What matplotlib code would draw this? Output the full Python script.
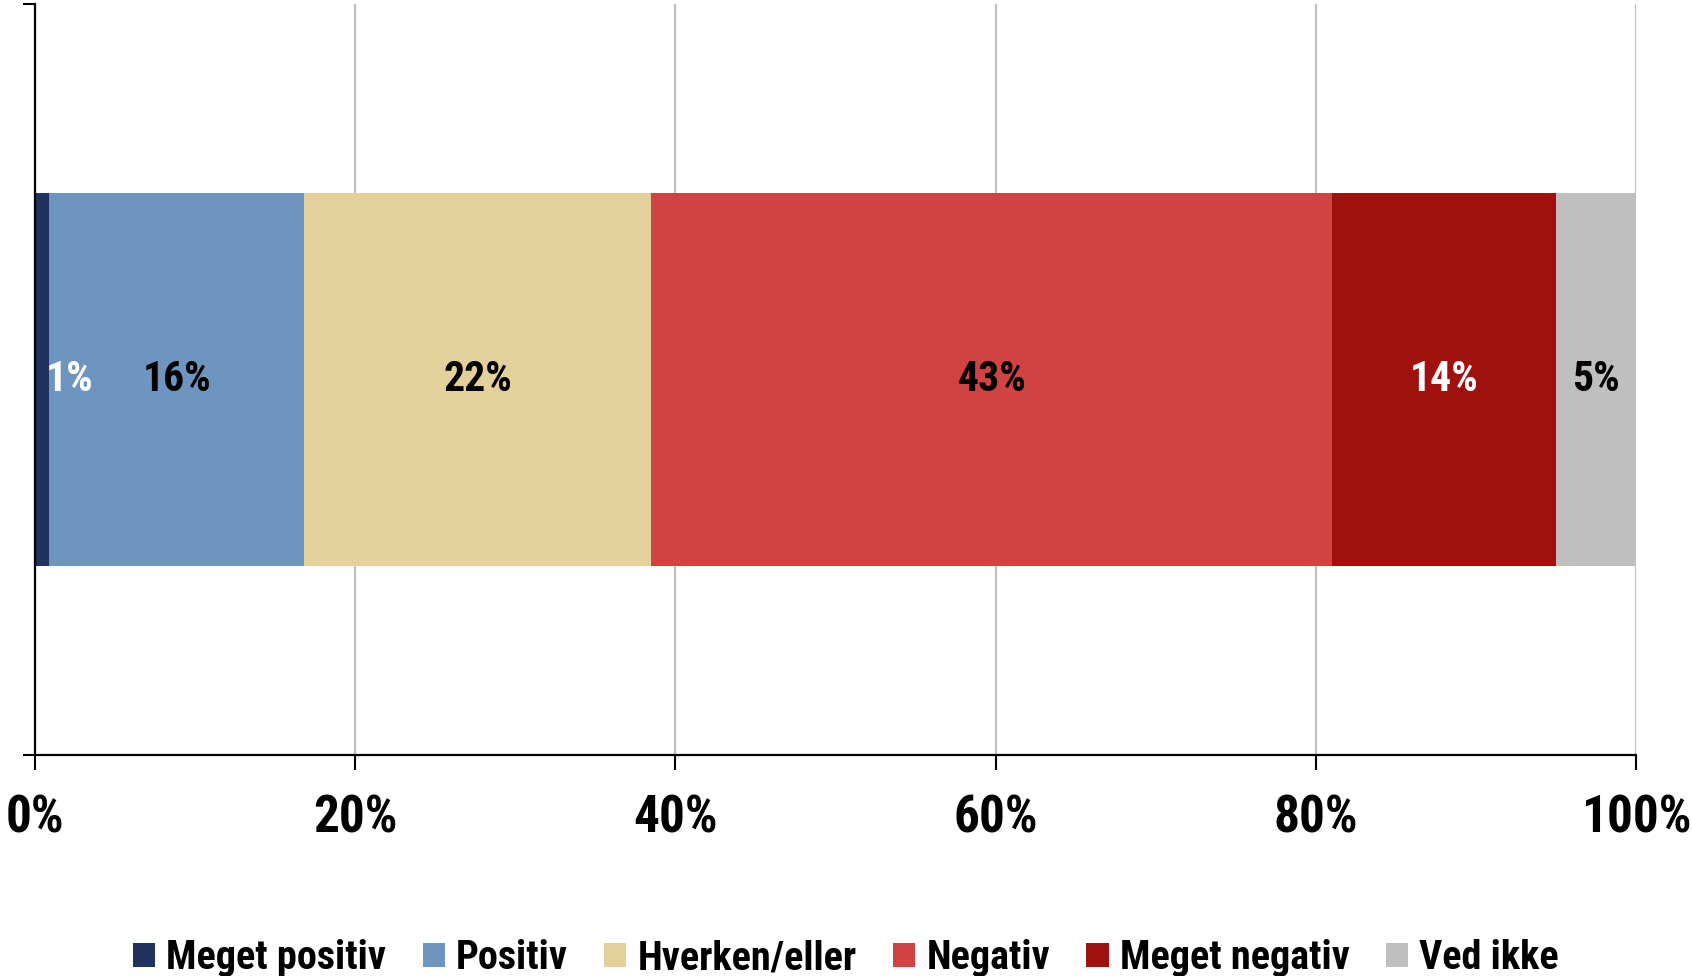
import matplotlib
matplotlib.use("Agg")
import matplotlib.pyplot as plt
from matplotlib.ticker import PercentFormatter

# Data (percent of respondents)
categories = ["Meget positiv", "Positiv", "Hverken/eller", "Negativ", "Meget negativ", "Ved ikke"]
values = [0.9, 15.9, 21.7, 42.5, 14.0, 5.0]
labels = ["1%", "16%", "22%", "43%", "14%", "5%"]

colors = ["#20335e", "#6e94c0", "#e4d09a", "#d14343", "#a0100c", "#bfbfbf"]
label_colors = ["white", "black", "black", "black", "white", "black"]
label_offsets = [20, 0, 0, 0, 0, 0]  # points, Excel nudged the tiny one

plt.rcParams["font.family"] = ["Liberation Sans Narrow", "Roboto Condensed", "Open Sans Condensed",
                               "Liberation Sans", "DejaVu Sans"]
plt.rcParams["font.weight"] = "bold"

fig = plt.figure(figsize=(16.92, 9.76), dpi=100)
ax = fig.add_axes([0.0207, 0.2264, 0.9463, 0.7695])

left = 0
for cat, val, col, lab, lcol, off in zip(categories, values, colors, labels, label_colors, label_offsets):
    ax.barh(0, val, left=left, height=0.497, color=col, label=cat, zorder=2)
    ax.annotate(lab, (left + val / 2, 0), xytext=(off, 0), textcoords="offset points",
                ha="center", va="center", fontsize=30, fontweight="bold", color=lcol, zorder=3)
    left += val

ax.set_xlim(0, 100)
ax.set_ylim(-0.5, 0.5)
ax.set_xticks([0, 20, 40, 60, 80, 100])
ax.xaxis.set_major_formatter(PercentFormatter(decimals=0))
ax.tick_params(axis="x", direction="out", length=11, width=1.5, pad=17, labelsize=37)
ax.set_yticks([-0.5, 0.5])
ax.set_yticklabels([])
ax.tick_params(axis="y", direction="out", length=9, width=1.5)
ax.grid(axis="x", color="#c0c0c0", linewidth=1.6, zorder=0)
ax.set_axisbelow(True)

for side in ["top", "right"]:
    ax.spines[side].set_visible(False)
for side in ["left", "bottom"]:
    ax.spines[side].set_linewidth(1.6)
    ax.spines[side].set_zorder(4)

fig.legend(loc="center", bbox_to_anchor=(0.5, 0.018), ncol=6, frameon=False,
           fontsize=29, handlelength=0.55, handleheight=0.55, handletextpad=0.28,
           columnspacing=0.9)

fig.savefig("out.png", dpi=100)
